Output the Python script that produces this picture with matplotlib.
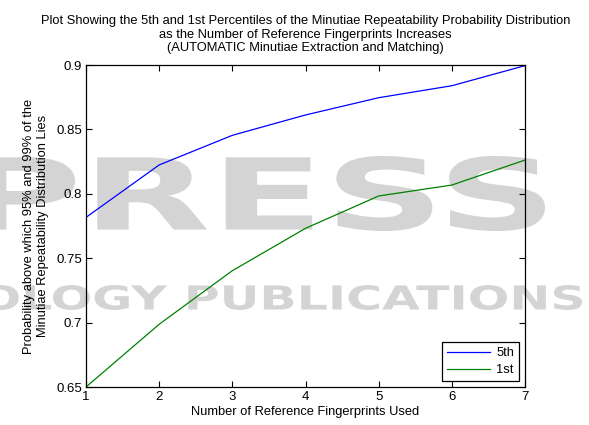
import matplotlib
matplotlib.use("Agg")
import matplotlib.pyplot as plt
from matplotlib.textpath import TextPath
from matplotlib.font_manager import FontProperties
from matplotlib.patches import PathPatch
from matplotlib.transforms import Affine2D

num_refs = [1, 2, 3, 4, 5, 6, 7]
p5 = [0.7817, 0.8224, 0.8454, 0.8612, 0.8746, 0.8839, 0.8995]
p1 = [0.6500, 0.6987, 0.7403, 0.7732, 0.7983, 0.8068, 0.8262]
series_labels = ["5th", "1st"]
title = ("Plot Showing the 5th and 1st Percentiles of the Minutiae Repeatability Probability Distribution\n"
         "as the Number of Reference Fingerprints Increases\n"
         "(AUTOMATIC Minutiae Extraction and Matching)")
xlabel = "Number of Reference Fingerprints Used"
ylabel = "Probability above which 95% and 99% of the\nMinutiae Repeatability Distribution Lies"
watermark = ["PRESS", "OLOGY PUBLICATIONS"]

plt.rcParams['font.family'] = ['Liberation Sans', 'DejaVu Sans']
W, H = 589, 425
fig = plt.figure(figsize=(W / 100, H / 100), dpi=100)

# watermark drawn behind, in pixel coordinates
def wm(text, x0, y0, x1, y1):
    fp = FontProperties(family='DejaVu Sans', weight='bold')
    tp = TextPath((0, 0), text, size=100, prop=fp)
    bb = tp.get_extents()
    sx = (x1 - x0) / bb.width
    sy = (y1 - y0) / bb.height
    tr = Affine2D().translate(-bb.x0, -bb.y0).scale(sx, sy).translate(x0, H - y1)
    patch = PathPatch(tr.transform_path(tp), facecolor='#d4d4d4', edgecolor='none',
                      zorder=-5, transform=None)
    fig.patches.append(patch)

wm(watermark[0], -25, 156, 545, 231)
wm(watermark[1], -18, 285, 582, 310)

left, right, top, bottom = 86, 525, 65, 387
ax = fig.add_axes([left / W, 1 - bottom / H, (right - left) / W, (bottom - top) / H])
ax.set_facecolor('none')

ax.plot(num_refs, p5, color='#0000ff', lw=0.9, label=series_labels[0])
ax.plot(num_refs, p1, color='#008000', lw=0.9, label=series_labels[1])

ax.set_xlim(1, 7)
ax.set_ylim(0.65, 0.9)
ax.set_xticks(num_refs)
ax.set_yticks([0.65, 0.7, 0.75, 0.8, 0.85, 0.9])
ax.set_yticklabels(["0.65", "0.7", "0.75", "0.8", "0.85", "0.9"])
ax.tick_params(direction='in', top=True, right=True, labelsize=9.5, length=4, width=0.8, pad=3)
for s in ax.spines.values():
    s.set_linewidth(0.9)

ax.set_title(title, fontsize=9.3, pad=10, linespacing=1.17)
ax.set_xlabel(xlabel, fontsize=9.3, labelpad=2)
ax.set_ylabel(ylabel, fontsize=9.3, labelpad=5, linespacing=1.25)

leg = ax.legend(loc='lower right', fontsize=9.3, fancybox=False, framealpha=1,
                edgecolor='black', handlelength=3.3, borderaxespad=0.45,
                labelspacing=0.35, borderpad=0.4, handletextpad=0.5)
leg.get_frame().set_linewidth(0.9)

fig.savefig("out.png", dpi=100)
